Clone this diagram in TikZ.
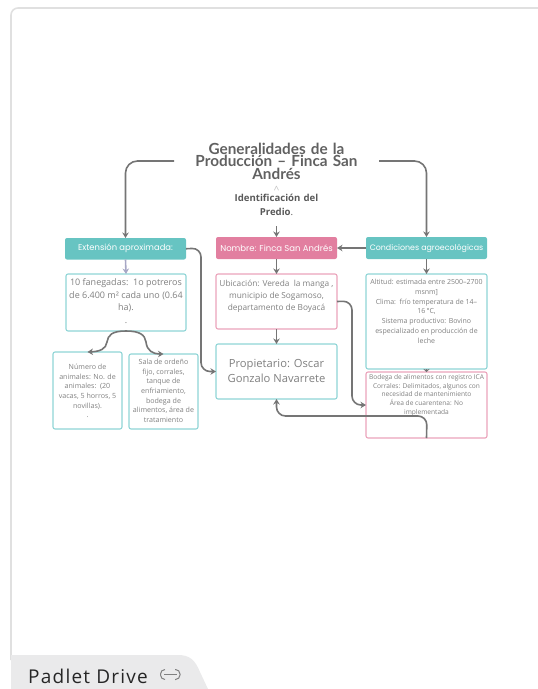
\documentclass[tikz,border=0pt]{standalone}
\usepackage{fontspec}
\setmainfont{Open Sans}
\newfontfamily\headfont{Poppins}
\newfontfamily\titlefont{Lato}
\newfontfamily\tabfont[LetterSpace=6.5]{Open Sans}
\usetikzlibrary{arrows.meta}
\definecolor{tealc}{HTML}{67C4C2}
\definecolor{pinkc}{HTML}{E27FA0}
\definecolor{tealb}{HTML}{8FD5D6}
\definecolor{pinkb}{HTML}{EBA3BB}
\definecolor{txt}{HTML}{808080}
\definecolor{lnc}{HTML}{757575}
\newcommand{\bxt}[6]{\parbox[t][#2pt][t]{#1pt}{\centering\fontsize{#4}{#5}\selectfont\vspace*{#3pt}#6\par}}
\tikzset{
  x=1pt,y=-1pt,
  boxbase/.style={anchor=north west,inner sep=0pt,outer sep=0pt,rounded corners=2pt,line width=1.1pt,fill=white,text=txt},
  tealbox/.style={boxbase,draw=tealb},
  pinkbox/.style={boxbase,draw=pinkb},
  header/.style={anchor=north west,inner sep=0pt,outer sep=0pt,rounded corners=2pt,text=white,align=center},
  conn/.style={draw=lnc,line width=1.6pt,-{Stealth[length=5.5pt,width=6.5pt]},rounded corners=9pt},
  connlight/.style={conn,draw=black!15!blue!25!gray!55},
}
\begin{document}
\begin{tikzpicture}
\useasboundingbox (0,0) rectangle (538,689);
\draw[draw=black!12,line width=1.6pt,rounded corners=7pt] (11,660) -- (11,8) -- (538,8);
\path[fill=black!3!blue!3!gray!16] (11,655) -- (178,655) .. controls (190,655) and (195,660) .. (200,672) -- (208,689) -- (11,689) -- cycle;
\node[anchor=base west,inner sep=0pt,text=black!85] (tab) at (28,683) {\tabfont\fontsize{19}{22}\selectfont Padlet Drive};
\draw[draw=black!50,line width=1pt,rounded corners=4.5pt] (165,669.5) -- (160.5,669.5) -- (160.5,679.5) -- (165,679.5);
\draw[draw=black!50,line width=1pt,rounded corners=4.5pt] (175,669.5) -- (180,669.5) -- (180,679.5) -- (175,679.5);
\draw[draw=black!50,line width=1pt] (164,674.5) -- (177,674.5);

\node[anchor=center,inner sep=0pt,outer sep=0pt,text width=205pt,align=center,text=black!62,font=\titlefont\fontsize{15.3}{11.2}\selectfont\bfseries] (title) at (276.5,161) {Generalidades de la\\Producción – Finca San\\Andrés};
\node[anchor=center,inner sep=0pt,text=black!25,font=\fontsize{10}{10}\selectfont] (chev) at (276.5,190) {\textasciicircum};
\node[anchor=north,inner sep=0pt,outer sep=0pt,text width=100pt,align=center,text=black!65,font=\fontsize{9.6}{14}\selectfont] (ident) at (276.5,194) {\textbf{Identificación del}\\\textbf{Predio}.\\[-3pt]\mbox{}};

\node[header,fill=tealc,minimum width=121pt,minimum height=21.5pt,font=\headfont\fontsize{8.4}{10}\selectfont] (ext) at (65,238) {Extensión aproximada:};
\node[header,fill=pinkc,minimum width=121pt,minimum height=22pt,font=\headfont\fontsize{8.5}{10}\selectfont] (nom) at (216,237) {Nombre: Finca San Andrés};
\node[header,fill=tealc,minimum width=121pt,minimum height=22pt,font=\headfont\fontsize{7.9}{10}\selectfont] (cond) at (366,237) {Condiciones agroecológicas};

\node[tealbox] (fan) at (66,274) {\bxt{120}{57}{5}{9}{12.5}{10 fanegadas:\ \ 1o potreros\\de 6.400 m² cada uno (0.64\\ha).\\.}};
\node[pinkbox] (ubi) at (216,274) {\bxt{121}{55}{6.5}{8.3}{11.7}{Ubicación: Vereda\ \ la manga ,\\municipio de Sogamoso,\\departamento de Boyacá}};
\node[tealbox] (prop) at (216,344) {\bxt{121}{55}{15}{11.2}{15}{Propietario: Oscar\\Gonzalo Navarrete}};
\node[tealbox] (alt) at (366,274) {\bxt{121}{95}{5.5}{7}{9.7}{Altitud: estimada entre 2500–2700\\msnm]\\Clima:\ \ frío temperatura de 14–\\16\,°C,\\Sistema productivo: Bovino\\especializado en producción de\\leche}};
\node[pinkbox] (bod) at (366,372) {\bxt{121}{66}{2.5}{6.6}{8.7}{Bodega de alimentos con registro ICA\\Corrales: Delimitados, algunos con\\necesidad de mantenimiento\\Área de cuarentena: No\\implementada}};
\node[tealbox] (num) at (53,352) {\bxt{69}{77}{12}{7.1}{9.7}{Número de\\animales: No. de\\animales:\ \ (20\\vacas, 5 horros, 5\\novillas).\\.}};
\node[tealbox] (sala) at (129,354) {\bxt{69}{75}{5}{7.1}{9.7}{Sala de ordeño\\fijo, corrales,\\tanque de\\enfriamiento,\\bodega de\\alimentos, área de\\tratamiento}};

\draw[conn,rounded corners=12pt] (title.west) -| (ext.north);
\draw[conn,rounded corners=12pt] (title.east) -| (cond.north);
\draw[conn] (ident.south) -- (nom.north);
\draw[connlight] (ext.south) -- (fan.north);
\draw[conn] (nom.south) -- (ubi.north);
\draw[conn] (ubi.south) -- (prop.north);
\draw[conn] (cond.west) -- (nom.east);
\draw[conn] (cond.south) -- (alt.north);
\draw[conn,-{Stealth[length=3pt,width=6pt]}] (alt.south) -- (bod.north);
\coordinate (extTurn) at (201,248);
\coordinate (ubiTurn) at (352,301);
\coordinate (bodTurn) at (427,416);
\draw[conn] (ext.east) -- (extTurn) |- (prop.west);
\draw[conn] (ubi.east) -- (ubiTurn) |- (bod.west);
\draw[conn] (bod.south) -- (bodTurn) -| (prop.south);
\draw[conn,rounded corners=0pt] (fan.south) .. controls (112,331) and (108,335) .. (107,342) .. controls (106,349) and (100,351.5) .. (num.north);
\draw[conn,rounded corners=0pt] (fan.south) .. controls (140,331) and (145,335) .. (146,342) .. controls (147,351) and (153,354) .. (sala.north);
\end{tikzpicture}
\end{document}
